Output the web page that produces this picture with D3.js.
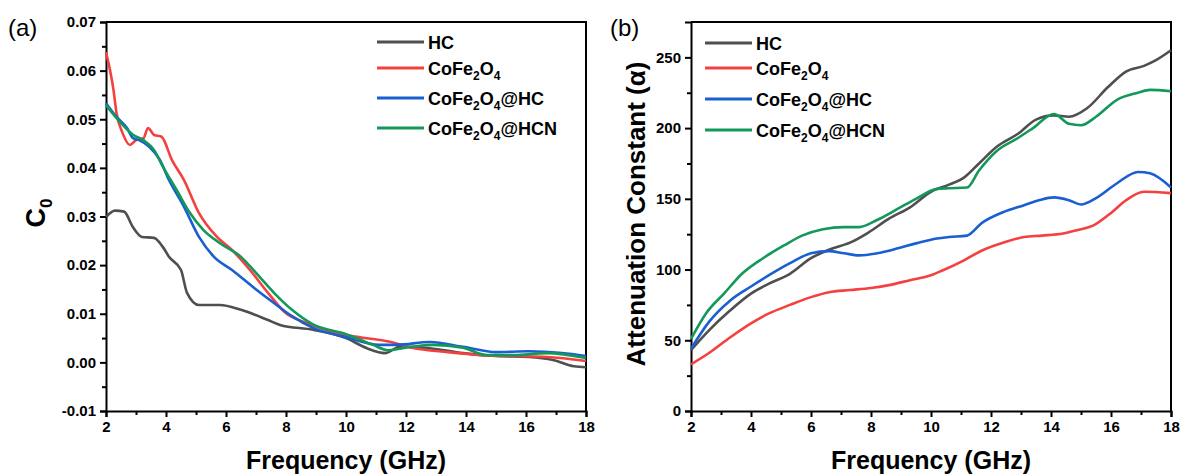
<!DOCTYPE html>
<html>
<head>
<meta charset="utf-8">
<script src="https://cdn.jsdelivr.net/npm/d3@7"></script>
<style>
  body { margin: 0; background: #fff; }
  text { font-family: "Liberation Sans", Arial, sans-serif; }
</style>
</head>
<body>
<svg id="chart" width="1184" height="476"></svg>
<script>
// series names and colours
const seriesNames = ["HC", "CoFe2O4", "CoFe2O4@HC", "CoFe2O4@HCN"];
const seriesColors = ["#4f4f4f", "#f4403f", "#1a5fd1", "#12995a"];

// tick values
const freqTicks = [2, 4, 6, 8, 10, 12, 14, 16, 18];
const c0Ticks = [-0.01, 0, 0.01, 0.02, 0.03, 0.04, 0.05, 0.06, 0.07];
const alphaTicks = [0, 50, 100, 150, 200, 250];

// (a) C0 vs frequency, [GHz, C0]
const hcC0 = [[2,0.0299],[2.3,0.0312],[2.6,0.031],[2.9,0.0278],[3.2,0.0258],[3.6,0.0256],[3.9,0.0237],[4.1,0.0217],[4.5,0.019],[4.7,0.0143],[5.1,0.0118],[5.8,0.0118],[6.5,0.0108],[7.4,0.0087],[7.8,0.0077],[8.9,0.0067],[10,0.005],[10.7,0.0029],[11.3,0.0019],[11.8,0.0032],[12.8,0.0029],[13.9,0.0019],[15,0.0013],[16.1,0.0011],[16.9,0.0005],[17.6,-0.0008],[18,-0.001]];
const cfoC0 = [[2,0.0638],[2.25,0.056],[2.35,0.0513],[2.55,0.0472],[2.8,0.0447],[3,0.0457],[3.25,0.0461],[3.4,0.0482],[3.6,0.0468],[3.85,0.0464],[4.2,0.0416],[4.6,0.0375],[5.1,0.0307],[5.7,0.0258],[6.2,0.0231],[6.8,0.019],[7.4,0.0143],[8,0.0101],[8.7,0.0081],[10,0.0056],[10.9,0.0048],[11.5,0.0042],[12.2,0.003],[13.4,0.0021],[14.5,0.0015],[15.6,0.0013],[16.7,0.0011],[18,0.0003]];
const cfoHcC0 = [[2,0.0533],[2.35,0.0505],[2.7,0.0482],[2.9,0.0461],[3.1,0.0457],[3.45,0.0443],[3.8,0.0416],[4.1,0.0375],[4.6,0.032],[5.1,0.0258],[5.6,0.0217],[6.2,0.019],[6.9,0.0155],[7.6,0.0122],[8.2,0.0095],[8.9,0.0071],[10,0.0052],[11.1,0.0036],[11.7,0.0036],[12.8,0.0042],[13.9,0.0032],[15,0.0021],[16.1,0.0023],[17.2,0.0019],[18,0.0013]];
const cfoHcnC0 = [[2,0.0529],[2.5,0.0492],[2.9,0.0468],[3.25,0.0457],[3.6,0.0437],[3.9,0.0402],[4.35,0.0355],[4.8,0.0307],[5.25,0.0272],[5.8,0.0245],[6.5,0.0217],[7,0.0184],[7.6,0.0143],[8.2,0.0108],[8.9,0.0078],[10,0.0058],[10.9,0.0036],[11.4,0.0025],[12.2,0.0032],[12.9,0.0036],[13.9,0.003],[14.7,0.0015],[15.6,0.0015],[16.7,0.0019],[18,0.0009]];

// (b) attenuation constant vs frequency, [GHz, alpha]
const hcAlpha = [[2,43],[2.6,57],[3.3,71],[4,83],[4.6,90],[5.3,97],[6,108],[6.6,114],[7.3,119],[7.9,126],[8.6,136],[9.3,144],[10,155],[10.6,160],[11.1,165],[11.6,175],[12.2,187],[12.9,196],[13.5,206],[14.1,209],[14.6,208],[15.2,214],[15.9,229],[16.5,240],[17.1,244],[17.5,248],[18,255]];
const cfoAlpha = [[2,33],[2.6,41],[3.3,52],[4,62],[4.6,69],[5.3,75],[6,80.5],[6.6,84],[7.3,85.5],[8,87],[8.6,89],[9.3,92.5],[10,96],[10.4,99.5],[11.1,106.5],[11.7,113.5],[12.4,119],[13.1,123],[13.7,124],[14.4,125.5],[14.9,128],[15.4,131],[16,140],[16.5,149],[17.1,155],[18,154]];
const cfoHcAlpha = [[2,44],[2.6,63],[3.3,78],[4,88],[4.6,96],[5.3,104.5],[6,111.5],[6.6,113],[7.1,111.5],[7.6,110],[8.2,111.5],[8.9,115],[9.5,118.5],[10.2,122],[10.6,123],[11.2,124],[11.7,133],[12.4,140.5],[13.1,145.5],[13.6,149],[14.1,151],[14.6,149],[15,146],[15.5,150.5],[16.2,161],[16.9,169],[17.3,168],[18,158]];
const cfoHcnAlpha = [[2,51],[2.5,69],[3.1,83],[3.7,97],[4.4,108],[5.1,117],[5.7,124],[6.4,128.5],[7.1,130],[7.6,130],[8.2,135],[8.9,143],[9.5,150],[10.2,157],[10.6,157.5],[11.2,158],[11.6,170],[12.2,184],[12.9,193],[13.4,200],[14.1,210],[14.6,203],[15,202],[15.5,208],[16.2,220],[16.9,225],[17.3,227],[18,226]];

const svg = d3.select("#chart");
const fmtMinus = f => v => f(v).replace("\u2212", "-");

function panel(opts) {
  const x = d3.scaleLinear().domain([2, 18]).range([opts.x0, opts.x1]);
  const y = d3.scaleLinear().domain(opts.yDomain).range([411, 22]);
  const g = svg.append("g");

  // frame: top and right
  g.append("path")
    .attr("d", `M${opts.x0},22H${opts.x1}V411`)
    .attr("fill", "none").attr("stroke", "#000").attr("stroke-width", 2);

  // minor ticks
  const xMinor = d3.range(3, 18, 2);
  g.append("g").attr("transform", "translate(0,411)")
    .call(d3.axisBottom(x).tickValues(xMinor).tickSize(4).tickFormat(""))
    .call(a => a.select(".domain").remove());
  g.append("g").attr("transform", `translate(${opts.x0},0)`)
    .call(d3.axisLeft(y).tickValues(opts.yMinor).tickSize(4).tickFormat(""))
    .call(a => a.select(".domain").remove());

  // major axes
  const xa = g.append("g").attr("transform", "translate(0,411)")
    .call(d3.axisBottom(x).tickValues(freqTicks).tickSize(6).tickPadding(4).tickFormat(d3.format("d")));
  const ya = g.append("g").attr("transform", `translate(${opts.x0},0)`)
    .call(d3.axisLeft(y).tickValues(opts.yTicks).tickSize(6).tickPadding(4).tickFormat(opts.yFormat));
  [xa, ya].forEach(a => {
    a.attr("font-size", 15);
    a.select(".domain").attr("stroke-width", 2);
    a.selectAll("text").attr("font-size", 15).attr("font-weight", "bold").attr("fill", "#000");
  });
  g.selectAll(".tick line").attr("stroke-width", 2);

  // lines
  const line = d3.line().x(d => x(d[0])).y(d => y(d[1])).curve(d3.curveMonotoneX);
  opts.data.forEach((s, i) => {
    g.append("path").datum(s)
      .attr("fill", "none")
      .attr("stroke", seriesColors[i])
      .attr("stroke-width", 2.6)
      .attr("stroke-linejoin", "round")
      .attr("d", line);
  });

  // legend
  const lg = g.append("g").attr("transform", `translate(${opts.legX},0)`);
  seriesNames.forEach((name, i) => {
    const ly = opts.legY[i];
    lg.append("line").attr("x1", 0).attr("x2", 47).attr("y1", ly).attr("y2", ly)
      .attr("stroke", seriesColors[i]).attr("stroke-width", 3);
    const t = lg.append("text").attr("x", 51).attr("y", ly + 7)
      .attr("font-size", 18).attr("font-weight", "bold").attr("fill", "#000");
    if (name === "HC") { t.text("HC"); return; }
    t.append("tspan").text("CoFe");
    t.append("tspan").attr("font-size", 12).attr("dy", 5).text("2");
    t.append("tspan").attr("dy", -5).text("O");
    t.append("tspan").attr("font-size", 12).attr("dy", 5).text("4");
    t.append("tspan").attr("dy", -5).text(name.replace("CoFe2O4", ""));
  });

  // x label
  g.append("text").attr("x", (opts.x0 + opts.x1) / 2).attr("y", 469)
    .attr("text-anchor", "middle").attr("font-size", 25).attr("font-weight", "bold")
    .text("Frequency (GHz)");

  // panel tag
  g.append("text").attr("x", opts.tagX).attr("y", 36).attr("font-size", 24).text(opts.tag);
  return g;
}

const ga = panel({
  x0: 106, x1: 586, yDomain: [-0.01, 0.07],
  yTicks: c0Ticks, yMinor: d3.range(-0.005, 0.07, 0.01),
  yFormat: fmtMinus(d3.format(".2f")),
  data: [hcC0, cfoC0, cfoHcC0, cfoHcnC0],
  legX: 377, legY: [42, 68, 98, 128], tag: "(a)", tagX: 8
});
const ylA = ga.append("text").attr("transform", "translate(45,213) rotate(-90)")
  .attr("text-anchor", "middle").attr("font-size", 27).attr("font-weight", "bold");
ylA.append("tspan").text("C");
ylA.append("tspan").attr("font-size", 17).attr("dy", 7).text("0");

const gb = panel({
  x0: 691, x1: 1171, yDomain: [0, 275],
  yTicks: alphaTicks, yMinor: d3.range(25, 275, 50),
  yFormat: d3.format("d"),
  data: [hcAlpha, cfoAlpha, cfoHcAlpha, cfoHcnAlpha],
  legX: 705, legY: [43, 68, 99, 130], tag: "(b)", tagX: 610
});
gb.append("text").attr("transform", "translate(645,214) rotate(-90)")
  .attr("text-anchor", "middle").attr("font-size", 26).attr("font-weight", "bold")
  .text("Attenuation Constant (\u03b1)");
</script>
</body>
</html>
